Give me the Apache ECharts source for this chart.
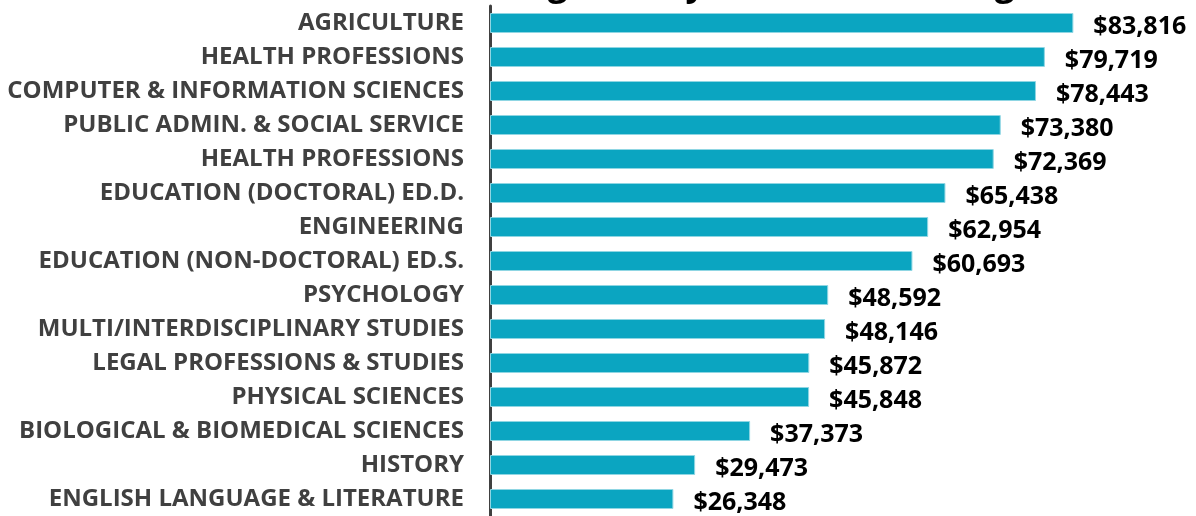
<!DOCTYPE html>
<html>
<head>
<meta charset="utf-8">
<script src="https://cdn.jsdelivr.net/npm/echarts@6/dist/echarts.min.js"></script>
<style>
  html, body { margin: 0; padding: 0; background: #fff; }
  #chart { width: 1196px; height: 516px; }
</style>
</head>
<body>
<div id="chart"></div>
<script>
// 学位类别
const categories = [
  'AGRICULTURE',
  'HEALTH PROFESSIONS',
  'COMPUTER & INFORMATION SCIENCES',
  'PUBLIC ADMIN. & SOCIAL SERVICE',
  'HEALTH PROFESSIONS',
  'EDUCATION (DOCTORAL) ED.D.',
  'ENGINEERING',
  'EDUCATION (NON-DOCTORAL) ED.S.',
  'PSYCHOLOGY',
  'MULTI/INTERDISCIPLINARY STUDIES',
  'LEGAL PROFESSIONS & STUDIES',
  'PHYSICAL SCIENCES',
  'BIOLOGICAL & BIOMEDICAL SCIENCES',
  'HISTORY',
  'ENGLISH LANGUAGE & LITERATURE'
]
// 平均薪资
const salaries = [83816, 79719, 78443, 73380, 72369, 65438, 62954, 60693, 48592, 48146, 45872, 45848, 37373, 29473, 26348]
const titleText = 'Average Salary for Graduate Degree'

const chart = echarts.init(document.getElementById('chart'))
chart.setOption({
  animation: false,
  title: {
    text: titleText,
    left: 441,
    top: -37,
    textStyle: {
      color: '#000',
      fontSize: 35,
      fontWeight: 'bold',
      fontFamily: 'Open Sans'
    }
  },
  grid: {
    left: 490,
    right: 10,
    top: 6,
    bottom: -4,
    containLabel: false
  },
  xAxis: {
    type: 'value',
    min: 0,
    max: 100000,
    show: false
  },
  yAxis: {
    type: 'category',
    inverse: true,
    data: categories,
    axisTick: { show: false },
    axisLine: {
      show: true,
      lineStyle: { color: '#404040', width: 3 }
    },
    axisLabel: {
      margin: 26,
      color: '#404040',
      fontSize: 24,
      fontWeight: 'bold',
      fontFamily: 'Open Sans'
    }
  },
  series: [
    {
      type: 'bar',
      data: salaries,
      barWidth: 20,
      itemStyle: {
        color: '#0ba5c1',
        borderColor: '#8fd6e3',
        borderWidth: 1
      },
      label: {
        show: true,
        position: 'right',
        distance: 20,
        offset: [0, 4],
        color: '#000',
        fontSize: 25,
        fontWeight: 'bold',
        fontFamily: 'Open Sans',
        formatter: p => '$' + p.value.toLocaleString('en-US')
      }
    }
  ]
})
</script>
</body>
</html>
